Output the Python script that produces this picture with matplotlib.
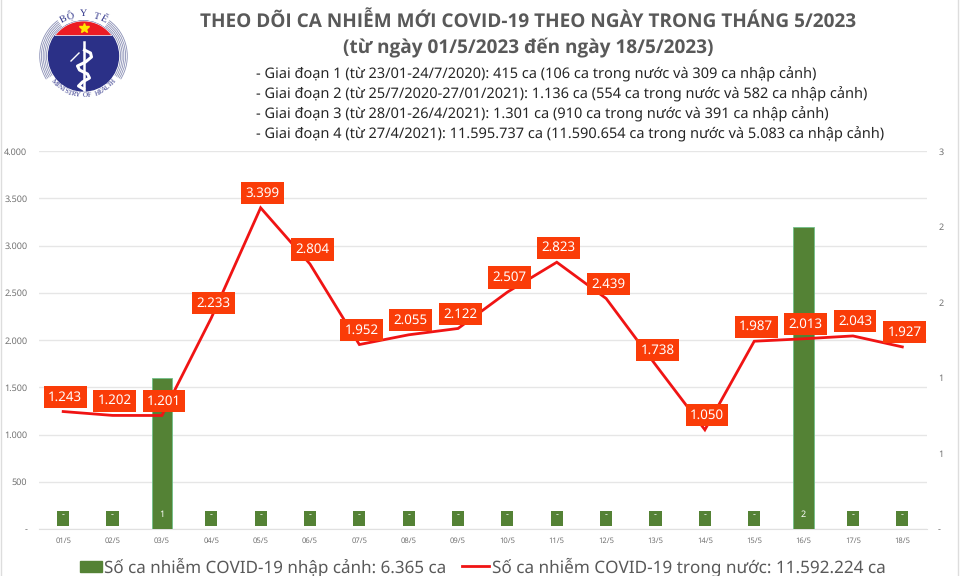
import matplotlib
matplotlib.use("Agg")
import matplotlib.pyplot as plt
from matplotlib.patches import Circle, Arc, Polygon
import numpy as np

plt.rcParams['font.family'] = ['Noto Sans', 'DejaVu Sans']
plt.rcParams['text.hinting'] = 'no_hinting'
plt.rcParams['text.hinting_factor'] = 1

# -----------------------------
# Data
# -----------------------------
days = ['01/5', '02/5', '03/5', '04/5', '05/5', '06/5', '07/5', '08/5', '09/5',
        '10/5', '11/5', '12/5', '13/5', '14/5', '15/5', '16/5', '17/5', '18/5']
domestic = [1243, 1202, 1201, 2233, 3399, 2804, 1952, 2055, 2122,
            2507, 2823, 2439, 1738, 1050, 1987, 2013, 2043, 1927]
imported = [0, 0, 1, 0, 0, 0, 0, 0, 0, 0, 0, 0, 0, 0, 0, 2, 0, 0]

left_ticks = [0, 500, 1000, 1500, 2000, 2500, 3000, 3500, 4000]
left_labels = ['-', '500', '1.000', '1.500', '2.000', '2.500', '3.000', '3.500', '4.000']
right_ticks = [0, 0.5, 1, 1.5, 2, 2.5]
right_labels = ['-', '1', '1', '2', '2', '3']

title_lines = ['THEO DÕI CA NHIỄM MỚI COVID-19 THEO NGÀY TRONG THÁNG 5/2023',
               '(từ ngày 01/5/2023 đến ngày 18/5/2023)']
phases = ['- Giai đoạn 1 (từ 23/01-24/7/2020): 415 ca (106 ca trong nước và 309 ca nhập cảnh)',
          '- Giai đoạn 2 (từ 25/7/2020-27/01/2021): 1.136 ca (554 ca trong nước và 582 ca nhập cảnh)',
          '- Giai đoạn 3 (từ 28/01-26/4/2021): 1.301 ca (910 ca trong nước và 391 ca nhập cảnh)',
          '- Giai đoạn 4 (từ 27/4/2021): 11.595.737 ca (11.590.654 ca trong nước và 5.083 ca nhập cảnh)']
legend_bar = 'Số ca nhiễm COVID-19 nhập cảnh: 6.365 ca'
legend_line = 'Số ca nhiễm COVID-19 trong nước: 11.592.224 ca'

GREEN = '#548235'
RED = '#f01414'
ORANGE = '#fa3c08'
GRAY = '#595959'


def vn(n):
    return f"{n:,}".replace(',', '.')


# -----------------------------
# Chart
# -----------------------------
fig = plt.figure(figsize=(9.6, 5.76), dpi=100)
W, H = 960, 576
ax = fig.add_axes([38.5 / W, 1 - 529 / H, (927 - 38.5) / W, (529 - 151) / H])
x = np.arange(len(days))

ax.set_xlim(-0.5, len(days) - 0.5)
ax.set_ylim(0, 4000)
ax.set_yticks(left_ticks)
ax.set_yticklabels(left_labels, fontsize=6.5, color='#707070')
ax.set_xticks(x)
ax.set_xticklabels(days, fontsize=5.5, color='#707070')
ax.tick_params(length=0)
ax.tick_params(axis='x', pad=6)
ax.tick_params(axis='y', pad=8)
ax.grid(axis='y', color='#e6e6e6', linewidth=1)
ax.set_axisbelow(True)
for s in ax.spines.values():
    s.set_visible(False)
ax.spines['bottom'].set_visible(True)
ax.spines['bottom'].set_color('#e0e0e0')

ax2 = ax.twinx()
ax2.set_ylim(0, 2.5)
ax2.set_yticks(right_ticks)
ax2.set_yticklabels(right_labels, fontsize=6.5, color='#707070')
ax2.tick_params(length=0, pad=8)
for s in ax2.spines.values():
    s.set_visible(False)

ax2.bar(x, imported, width=0.41, color=GREEN, edgecolor='#70c08a', linewidth=0.6, zorder=2)
for xi, v in zip(x, imported):
    ax2.annotate(str(v) if v else '-', (xi, 0), xytext=(0, 10.5), textcoords='offset points',
                 ha='center', va='center', fontsize=6.5, color='white', zorder=3)
    # green chips behind the zero labels
    if v == 0:
        ax2.bar(xi, 0.1, bottom=0.02, width=0.245, color=GREEN, zorder=2)

ax3 = ax.twinx()
ax3.set_ylim(0, 4000)
ax3.axis('off')
ax3.plot(x, domestic, color=RED, linewidth=2, zorder=4, solid_joinstyle='miter')
for xi, v in zip(x, domestic):
    ax3.annotate(vn(v), (xi, v), xytext=(1.5, 10.5), textcoords='offset points',
                 ha='center', va='center', fontsize=9.6, color='white', zorder=5,
                 bbox=dict(boxstyle='square,pad=0.33', facecolor=ORANGE, edgecolor='none'))

# -----------------------------
# Overlay in pixel coordinates: texts, legend, logo
# -----------------------------
ov = fig.add_axes([0, 0, 1, 1], zorder=10)
ov.set_xlim(0, W)
ov.set_ylim(H, 0)
ov.axis('off')

# Noto Sans has no bold here, the title stays in Open Sans
title_font = ['Open Sans', 'DejaVu Sans']
ov.text(528, 21, title_lines[0], ha='center', va='center', fontsize=13.5, fontweight='bold',
        color=GRAY, family=title_font)
ov.text(528, 47, title_lines[1], ha='center', va='center', fontsize=13.5, fontweight='bold',
        color=GRAY, family=title_font)
for yy, line in zip([74, 94, 114, 134], phases):
    ov.text(256, yy, line, ha='left', va='center', fontsize=10.47, color='#262626')

ov.add_patch(plt.Rectangle((80, 561), 22, 11, color=GREEN))
ov.text(104, 567, legend_bar, ha='left', va='center', fontsize=12.25, color=GRAY)
ov.plot([462, 489], [566, 566], color=RED, linewidth=2)
ov.text(492, 567, legend_line, ha='left', va='center', fontsize=12.35, color=GRAY)

# page border
ov.plot([0.5, 0.5], [0, H], color='#dddddd', linewidth=1)
ov.plot([958, 958], [0, H], color='#dddddd', linewidth=1)

# logo
cx, cy, r = 83.5, 56, 35
NAVY = '#2b3087'
ov.add_patch(Circle((cx, cy), r, color=NAVY, zorder=1))
cap_y = 35.5
dx = np.sqrt(r**2 - (cap_y - cy)**2)
ang = np.linspace(np.arctan2(cap_y - cy, -dx), np.arctan2(cap_y - cy, dx), 30)
cap = np.column_stack([cx + r * np.cos(ang), cy + r * np.sin(ang)])
ov.add_patch(Polygon(cap, closed=True, facecolor='#ec1c24', edgecolor='white', linewidth=0.5, zorder=2))
ov.plot([cx], [28], marker='*', markersize=7, color='#ffe600', zorder=3)
for rr in [37, 38.7, 40.4, 42.1, 43.8]:
    ov.add_patch(Arc((cx, cy), 2 * rr, 2 * rr, theta1=148, theta2=234, color='#8a8fb5', linewidth=0.6))
    ov.add_patch(Arc((cx, cy), 2 * rr, 2 * rr, theta1=-54, theta2=32, color='#8a8fb5', linewidth=0.6))
# staff and snake
ov.plot([cx, cx], [42, 90], color='white', linewidth=1.8, zorder=3)
sy = [50, 53, 57, 62, 66, 70, 74, 78, 82, 86, 89]
sx = [cx + d for d in [1, 7, 8, 2, -6, -4, 4, 6, -1, -5, 0]]
ov.plot(sx, sy, color='white', linewidth=2.2, zorder=4)
ov.plot([71, 79], [61, 53], color='white', linewidth=1, zorder=4)


def arc_text(s, radius, start, end, size, clockwise=True):
    for ch, a in zip(s, np.linspace(start, end, len(s))):
        px = cx + radius * np.cos(np.radians(a))
        py = cy + radius * np.sin(np.radians(a))
        rot = -(a + 90) if clockwise else 90 - a
        ov.text(px, py, ch, fontsize=size, color=NAVY, ha='center', va='center',
                rotation=rot, family=['Liberation Serif', 'DejaVu Sans'])


arc_text('BỘ Y TẾ', 42, -118, -62, 7.5)
arc_text('MINISTRY OF HEALTH', 39.5, 139, 41, 4.8, clockwise=False)

fig.savefig('out.png', dpi=100)
